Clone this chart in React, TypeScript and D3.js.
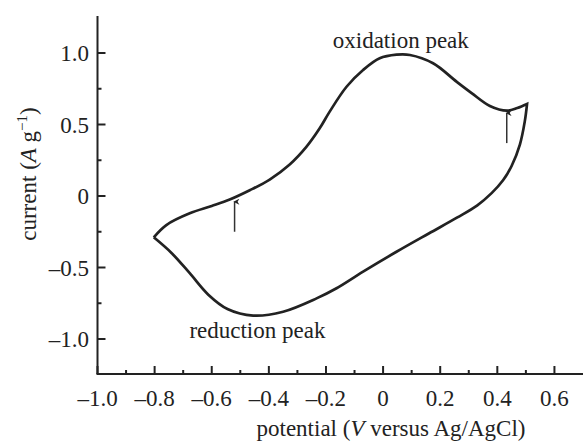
import React from "react";
import * as d3 from "d3";

const W = 583;
const H = 443;

// Cyclic voltammogram: anodic (forward) branch from -0.8 V to 0.5 V
const forwardV = [-0.803, -0.759, -0.677, -0.6, -0.537, -0.467, -0.397, -0.327, -0.268, -0.222, -0.187, -0.128, -0.07, -0.012, 0.047, 0.094, 0.175, 0.257, 0.31, 0.374, 0.434, 0.47, 0.504];
const forwardI = [-0.289, -0.203, -0.121, -0.07, -0.025, 0.04, 0.115, 0.22, 0.345, 0.473, 0.59, 0.764, 0.881, 0.963, 0.988, 0.986, 0.928, 0.8, 0.72, 0.63, 0.597, 0.615, 0.643];
// Cathodic (reverse) branch from 0.5 V back to -0.8 V
const reverseV = [0.504, 0.496, 0.479, 0.45, 0.42, 0.38, 0.33, 0.26, 0.16, 0.047, -0.07, -0.163, -0.233, -0.35, -0.455, -0.545, -0.612, -0.677, -0.74, -0.803];
const reverseI = [0.643, 0.52, 0.36, 0.21, 0.11, 0.02, -0.065, -0.15, -0.262, -0.39, -0.529, -0.645, -0.716, -0.809, -0.836, -0.79, -0.69, -0.54, -0.4, -0.289];

const xTicks = [-1.0, -0.8, -0.6, -0.4, -0.2, 0, 0.2, 0.4, 0.6];
const xMinorTicks = [-0.9, -0.7, -0.5, -0.3, -0.1, 0.1, 0.3, 0.5];
const yTicks = [-1.0, -0.5, 0, 0.5, 1.0];
const yMinorTicks = [-0.75, -0.25, 0.25, 0.75];

const arrows = [
  { v: -0.52, from: -0.25, to: -0.04 },
  { v: 0.433, from: 0.37, to: 0.58 },
];

const annotations = [
  { text: "oxidation peak", v: 0.062, i: 1.035 },
  { text: "reduction peak", v: -0.44, i: -0.993 },
];

const fmt = (d: number) => {
  if (d === 0) return "0";
  const s = Math.abs(d).toFixed(1);
  return (d < 0 ? "\u2013" : "") + s;
};

export default function App() {
  const x = d3.scaleLinear().domain([-1.0, 0.7]).range([97.5, 583]);
  const y = d3.scaleLinear().domain([-1.0, 1.0]).range([339, 53]);
  const x0 = x(-1.0);
  const yBottom = 374;
  const yTop = 16;

  const line = d3
    .line<[number, number]>()
    .x((d) => x(d[0]))
    .y((d) => y(d[1]))
    .curve(d3.curveCatmullRom.alpha(0.5));

  const fwd = forwardV.map((v, k) => [v, forwardI[k]] as [number, number]);
  const rev = reverseV.map((v, k) => [v, reverseI[k]] as [number, number]);
  const pathD = (line(fwd) || "") + (line(rev) || "").replace(/^M/, "L");

  const font = "'Liberation Serif', 'Times New Roman', serif";
  const fs = 23;

  return (
    <svg
      width={W}
      height={H}
      style={{ position: "absolute", left: 0, top: 0, background: "#fff" }}
      fontFamily={font}
    >
      <defs>
        <marker id="ah" viewBox="0 0 10 10" refX="5" refY="2" markerWidth="6" markerHeight="9" orient="auto-start-reverse" markerUnits="userSpaceOnUse">
          <path d="M0,10 L5,0 L10,10 L5,7 Z" fill="#222" />
        </marker>
      </defs>
      {/* axes */}
      <line x1={x0} x2={x0} y1={yTop} y2={yBottom} stroke="#222" strokeWidth={2} />
      <line x1={x0 - 1} x2={W} y1={yBottom} y2={yBottom} stroke="#222" strokeWidth={2} />
      {xTicks.map((t) => (
        <g key={"xt" + t}>
          <line x1={x(t)} x2={x(t)} y1={yBottom} y2={yBottom - 8} stroke="#222" strokeWidth={2} />
          <text x={x(t)} y={406} textAnchor="middle" fontSize={fs} fill="#222">
            {fmt(t)}
          </text>
        </g>
      ))}
      {xMinorTicks.map((t) => (
        <line key={"xm" + t} x1={x(t)} x2={x(t)} y1={yBottom} y2={yBottom - 4} stroke="#222" strokeWidth={2} />
      ))}
      {yTicks.map((t) => (
        <g key={"yt" + t}>
          <line x1={x0} x2={x0 + 8} y1={y(t)} y2={y(t)} stroke="#222" strokeWidth={2} />
          <text x={89} y={y(t) + 8} textAnchor="end" fontSize={fs} fill="#222">
            {fmt(t)}
          </text>
        </g>
      ))}
      {yMinorTicks.map((t) => (
        <line key={"ym" + t} x1={x0} x2={x0 + 4} y1={y(t)} y2={y(t)} stroke="#222" strokeWidth={2} />
      ))}
      {/* axis titles */}
      <text x={391} y={436} textAnchor="middle" fontSize={fs} fill="#222">
        potential (<tspan fontStyle="italic">V</tspan> versus Ag/AgCl)
      </text>
      <text transform="translate(36,174) rotate(-90)" textAnchor="middle" fontSize={fs} fill="#222">
        current (<tspan fontStyle="italic">A</tspan> g<tspan dy={-9} fontSize={15}>{"\u22121"}</tspan>
        <tspan dy={9}>)</tspan>
      </text>
      {/* curve */}
      <path d={pathD} fill="none" stroke="#222" strokeWidth={2.7} strokeLinejoin="miter" />
      {/* arrows */}
      {arrows.map((a, k) => (
        <line key={"ar" + k} x1={x(a.v)} x2={x(a.v)} y1={y(a.from)} y2={y(a.to)} stroke="#333" strokeWidth={1.5} markerEnd="url(#ah)" />
      ))}
      {annotations.map((a) => (
        <text key={a.text} x={x(a.v)} y={y(a.i)} textAnchor="middle" fontSize={fs} fill="#222">
          {a.text}
        </text>
      ))}
    </svg>
  );
}
